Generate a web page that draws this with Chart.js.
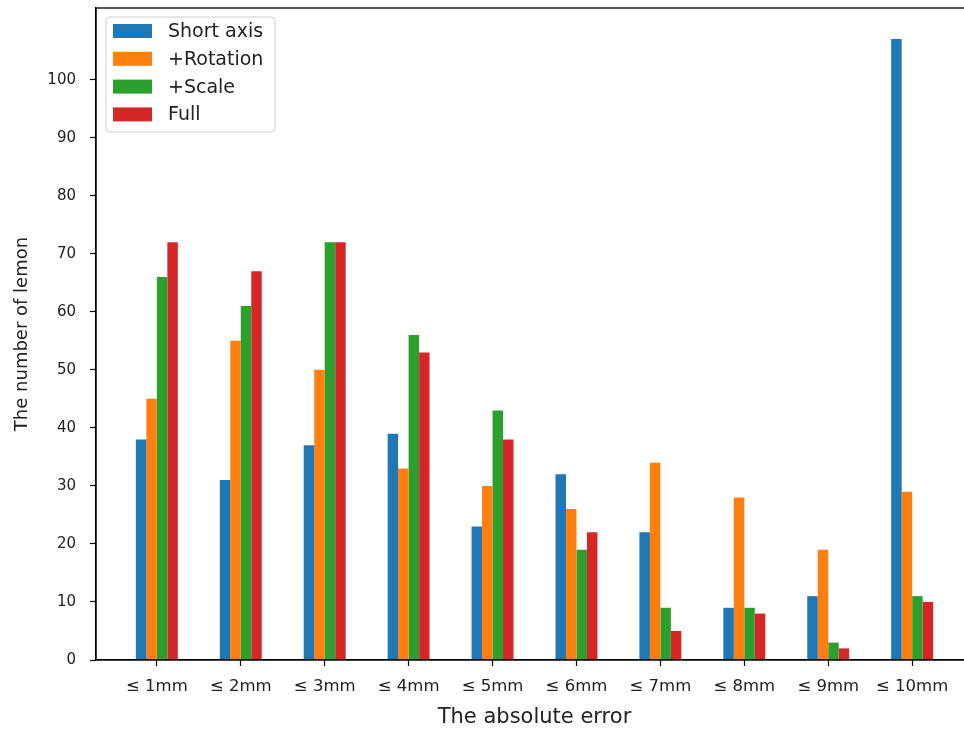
<!DOCTYPE html>
<html>
<head>
<meta charset="utf-8">
<script src="https://cdn.jsdelivr.net/npm/chart.js@4"></script>
<style>
  html, body { margin: 0; padding: 0; background: #fff; overflow: hidden; }
  #wrap { position: absolute; left: 0; top: 0; width: 976px; height: 729px; }
</style>
</head>
<body>
<div id="wrap"><canvas id="chart" width="976" height="729"></canvas></div>
<script>
// data
const categories = ['≤ 1mm', '≤ 2mm', '≤ 3mm', '≤ 4mm', '≤ 5mm', '≤ 6mm', '≤ 7mm', '≤ 8mm', '≤ 9mm', '≤ 10mm'];
const shortAxis  = [38, 31, 37, 39, 23, 32, 22, 9, 11, 107];
const rotation   = [45, 55, 50, 33, 30, 26, 34, 28, 19, 29];
const scale      = [66, 61, 72, 56, 43, 19, 9, 9, 3, 11];
const full       = [72, 67, 72, 53, 38, 22, 5, 8, 2, 10];
const yTicks     = [0, 10, 20, 30, 40, 50, 60, 70, 80, 90, 100];

const FONT = "'DejaVu Sans', sans-serif";
const TEXT = '#222';

const toPoints = arr => arr.map((v, i) => ({ x: i, y: v }));

// matplotlib-like box around the axes + legend in the upper left
const framePlugin = {
  id: 'frame',
  afterDraw(chart) {
    const { ctx, chartArea: a } = chart;
    ctx.save();
    ctx.strokeStyle = '#000';
    ctx.lineWidth = 1.3;
    ctx.strokeRect(a.left, a.top, a.right - a.left, a.bottom - a.top);

    // legend
    const x = a.left + 10, y = a.top + 9, w = 169, h = 115;
    ctx.beginPath();
    ctx.roundRect(x, y, w, h, 4);
    ctx.fillStyle = 'rgba(255,255,255,0.8)';
    ctx.fill();
    ctx.strokeStyle = '#cccccc';
    ctx.lineWidth = 1;
    ctx.stroke();
    ctx.font = `19px ${FONT}`;
    ctx.textBaseline = 'middle';
    chart.data.datasets.forEach((ds, i) => {
      const cy = y + 14 + i * 27.8;
      ctx.fillStyle = ds.backgroundColor;
      ctx.fillRect(x + 7, cy - 7, 39, 14);
      ctx.fillStyle = TEXT;
      ctx.fillText(ds.label, x + 62, cy + 1);
    });
    ctx.restore();
  }
};

new Chart(document.getElementById('chart'), {
  type: 'bar',
  data: {
    datasets: [
      { label: 'Short axis', data: toPoints(shortAxis), backgroundColor: '#1f77b4' },
      { label: '+Rotation',  data: toPoints(rotation),  backgroundColor: '#ff7f0e' },
      { label: '+Scale',     data: toPoints(scale),     backgroundColor: '#2ca02c' },
      { label: 'Full',       data: toPoints(full),      backgroundColor: '#d62728' },
    ]
  },
  options: {
    responsive: false,
    animation: false,
    layout: { padding: { top: 8, right: 3, left: 0, bottom: 0 } },
    datasets: { bar: { categoryPercentage: 0.5, barPercentage: 1.0, borderWidth: 0 } },
    scales: {
      x: {
        type: 'linear',
        offset: false,
        min: -0.725, max: 9.725,
        afterBuildTicks: s => { s.ticks = categories.map((c, i) => ({ value: i })); },
        afterFit: s => { s.height = 69; s.paddingLeft = 0; s.paddingRight = 0; },
        grid: { drawOnChartArea: false, offset: false, tickLength: 6, color: '#000', tickWidth: 1.2 },
        border: { color: '#000', width: 1.3 },
        ticks: {
          autoSkip: false, maxRotation: 0, padding: 11,
          color: TEXT, font: { family: FONT, size: 16.5 },
          callback: v => categories[v]
        },
        title: {
          display: true, text: 'The absolute error',
          color: TEXT, font: { family: FONT, size: 21 },
          padding: { top: 0, bottom: -1 }
        }
      },
      y: {
        min: 0, max: 112.35,
        afterBuildTicks: s => { s.ticks = yTicks.map(v => ({ value: v })); },
        afterFit: s => { s.width = 96; s.paddingTop = 0; s.paddingBottom = 0; },
        grid: { drawOnChartArea: false, tickLength: 6, color: '#000', tickWidth: 1.2 },
        border: { color: '#000', width: 1.3 },
        ticks: { padding: 14, color: TEXT, font: { family: FONT, size: 15 } },
        title: {
          display: true, text: 'The number of lemon',
          color: TEXT, font: { family: FONT, size: 18 },
          padding: { top: 12, bottom: 0 }
        }
      }
    },
    plugins: {
      legend: { display: false },
      tooltip: { enabled: false }
    }
  },
  plugins: [framePlugin]
});
</script>
</body>
</html>
